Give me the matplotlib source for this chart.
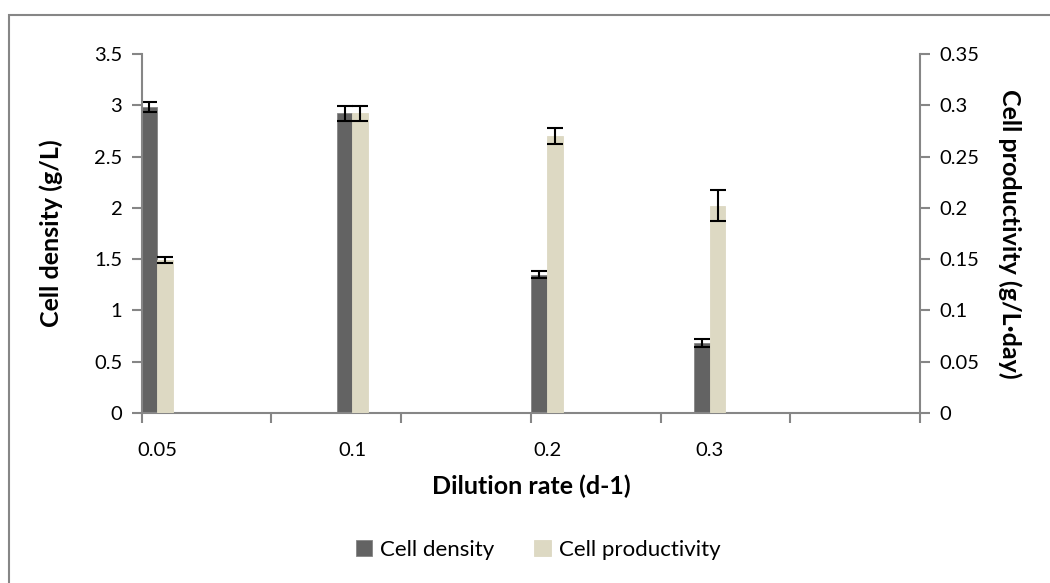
import numpy as np
import matplotlib.pyplot as plt

plt.rcParams['font.family'] = ['Lato', 'DejaVu Sans']

# dilution rates and measured values
dilution = ["0.05", "0.1", "0.2", "0.3"]
density = [2.98, 2.92, 1.35, 0.68]
density_err = [0.05, 0.07, 0.03, 0.04]
productivity = [0.149, 0.292, 0.270, 0.202]
productivity_err = [0.003, 0.007, 0.008, 0.015]

# group centres along the category axis (axis runs 0..6)
centers = np.array([0.12, 1.625, 3.125, 4.38])
w = 0.12

dark = '#636363'
light = '#DDD9C3'
axcol = '#868686'

W, H = 1050, 583
fig = plt.figure(figsize=(W / 100, H / 100), dpi=100)
# chart-area frame, runs off the right and bottom edges
fig.patches.append(plt.Rectangle((8.5 / W, -0.05), 1.1, 1 - 15 / H + 0.05, transform=fig.transFigure,
                                 fill=False, edgecolor=axcol, linewidth=1.5))
ax1 = fig.add_axes([141.7 / W, 1 - 413 / H, (920 - 141.7) / W, (413 - 54) / H])
ax2 = ax1.twinx()

ekw = dict(elinewidth=1.5, capthick=1.5)
ax1.bar(centers - w / 2, density, w, color=dark, edgecolor=axcol, linewidth=0.6,
        yerr=density_err, capsize=6, error_kw=ekw, label='Cell density', zorder=2)
ax2.bar(centers + w / 2, productivity, w, color=light, edgecolor=light, linewidth=0.6,
        yerr=productivity_err, capsize=6, error_kw=ekw, label='Cell productivity', zorder=2)

ax1.set_xlim(0, 6)
ax1.set_ylim(0, 3.5)
ax2.set_ylim(0, 0.35)
ax1.set_yticks(np.arange(0, 3.51, 0.5))
ax1.set_yticklabels(['0', '0.5', '1', '1.5', '2', '2.5', '3', '3.5'])
ax2.set_yticks(np.arange(0, 0.351, 0.05))
ax2.set_yticklabels(['0', '0.05', '0.1', '0.15', '0.2', '0.25', '0.3', '0.35'])

ax1.set_xticks(range(7))
ax1.set_xticklabels([])
ax1.set_xticks(centers, minor=True)
ax1.set_xticklabels(dilution, minor=True)

fs = 14.5
lfs = 18
for a in (ax1, ax2):
    for s in a.spines.values():
        s.set_visible(False)
    a.tick_params(which='major', length=7, width=1.5, color=axcol, labelsize=fs, pad=7)
ax1.tick_params(axis='x', which='minor', length=0, pad=21, labelsize=fs)
ax1.spines['left'].set_visible(True)
ax1.spines['bottom'].set_visible(True)
ax2.spines['right'].set_visible(True)
for s in (ax1.spines['left'], ax1.spines['bottom'], ax2.spines['right']):
    s.set_color(axcol)
    s.set_linewidth(1.5)

ax1.set_ylabel('Cell density (g/L)', fontsize=lfs, fontweight='bold', labelpad=22)
ax2.set_ylabel('Cell productivity (g/L\u00b7day)', fontsize=lfs, fontweight='bold',
               rotation=270, labelpad=30)
ax1.set_xlabel('Dilution rate (d-1)', fontsize=lfs, fontweight='bold', labelpad=11)

h1, l1 = ax1.get_legend_handles_labels()
h2, l2 = ax2.get_legend_handles_labels()
fig.legend(h1 + h2, l1 + l2, loc='center', bbox_to_anchor=(538 / W, 1 - 550 / H), ncol=2, frameon=False,
           fontsize=16, handlelength=0.75, handleheight=0.75, columnspacing=1.8, handletextpad=0.35)

fig.savefig('out.png', dpi=100)
